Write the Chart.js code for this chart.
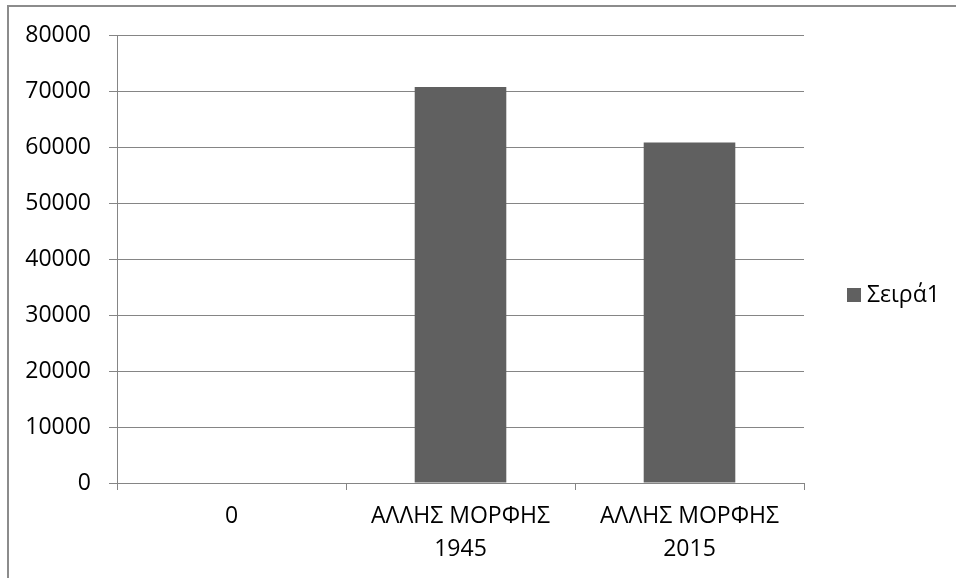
<!DOCTYPE html>
<html>
<head>
<meta charset="utf-8">
<script src="https://cdn.jsdelivr.net/npm/chart.js@4"></script>
<style>
    html, body { margin: 0; padding: 0; background: #fff; overflow: hidden; }
    #wrap { position: relative; width: 956px; height: 578px; overflow: hidden; }
    #frame { position: absolute; left: 7px; top: 5px; width: 2000px; height: 2000px; border: 2px solid #8c8c8c; box-sizing: border-box; }
    #chart { position: absolute; left: 0; top: 0; }
</style>
</head>
<body>
<div id="wrap">
    <div id="frame"></div>
    <canvas id="chart" width="956" height="578"></canvas>
</div>
<script>
// Chart data
const categories = ['0', ['ΑΛΛΗΣ ΜΟΡΦΗΣ', '1945'], ['ΑΛΛΗΣ ΜΟΡΦΗΣ', '2015']];
const seriesName = 'Σειρά1';
const seriesValues = [0, 70700, 60800];
const yMin = 0;
const yMax = 80000;
const yStep = 10000;

const FONT = "'Open Sans', 'Liberation Sans', sans-serif";
const GRID = '#858585';
const BAR = '#606060';

/**
 * Excel-style legend to the right of the plot area
 */
const sideLegend = {
    id: 'sideLegend',
    afterDraw(chart) {
        const ctx = chart.ctx;
        const ds = chart.data.datasets[0];
        const x = chart.chartArea.right + 43;
        const y = chart.height / 2 + 6;
        ctx.save();
        ctx.fillStyle = ds.backgroundColor;
        ctx.fillRect(x, y - 7, 14, 14);
        ctx.fillStyle = '#000';
        ctx.font = '23px ' + FONT;
        ctx.textBaseline = 'middle';
        ctx.textAlign = 'left';
        ctx.fillText(ds.label, x + 20, y);
        ctx.restore();
    }
};

new Chart(document.getElementById('chart').getContext('2d'), {
    type: 'bar',
    data: {
        labels: categories,
        datasets: [{
            label: seriesName,
            data: seriesValues,
            backgroundColor: BAR,
            borderWidth: 0,
            barPercentage: 1,
            categoryPercentage: 0.4
        }]
    },
    options: {
        responsive: false,
        animation: false,
        layout: {
            padding: { top: 35, right: 152, bottom: 0, left: 0 }
        },
        plugins: {
            legend: { display: false },
            tooltip: { enabled: false }
        },
        scales: {
            x: {
                grid: {
                    drawOnChartArea: false,
                    drawTicks: true,
                    tickLength: 7,
                    color: GRID,
                    lineWidth: 1
                },
                border: { display: true, color: GRID, width: 1 },
                ticks: {
                    color: '#000',
                    padding: 10,
                    maxRotation: 0,
                    autoSkip: false,
                    font: { family: FONT, size: 23, lineHeight: 1.43 }
                },
                afterFit: function(scale) {
                    scale.height = 95;
                }
            },
            y: {
                min: yMin,
                max: yMax,
                grid: {
                    color: GRID,
                    lineWidth: 1,
                    drawTicks: true,
                    tickLength: 8
                },
                border: { display: true, color: GRID, width: 1 },
                ticks: {
                    stepSize: yStep,
                    color: '#000',
                    padding: 18,
                    font: { family: FONT, size: 23 },
                    callback: function(value) {
                        return String(value);
                    }
                },
                afterFit: function(scale) {
                    scale.width = 117;
                }
            }
        }
    },
    plugins: [sideLegend]
});
</script>
</body>
</html>
